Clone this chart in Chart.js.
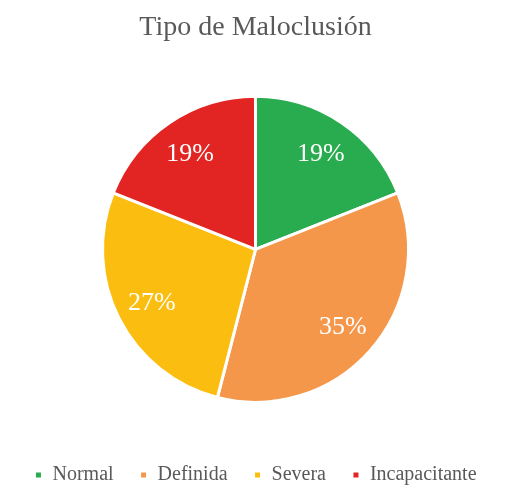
<!DOCTYPE html>
<html>
<head>
<meta charset="utf-8">
<script src="https://cdn.jsdelivr.net/npm/chart.js@4"></script>
<style>
html,body{margin:0;padding:0;background:#fff;}
#wrap{width:520px;height:498px;position:relative;}
</style>
</head>
<body>
<div id="wrap"><canvas id="c" width="520" height="498"></canvas></div>
<script>
const categories = ["Normal", "Definida", "Severa", "Incapacitante"];
const percentValues = [19, 35, 27, 19];
const sliceColors = ["#29AB4F", "#F4974A", "#FBBE10", "#E22422"];
const chartTitle = "Tipo de Maloclusión";

const pieLabels = {
  id: 'pieLabels',
  afterDatasetsDraw(chart) {
    const ctx = chart.ctx;
    const meta = chart.getDatasetMeta(0);
    ctx.save();
    ctx.fillStyle = '#ffffff';
    ctx.font = '26px "Liberation Serif", "Times New Roman", serif';
    ctx.textAlign = 'center';
    ctx.textBaseline = 'middle';
    meta.data.forEach((arc, i) => {
      const p = arc.getProps(['x','y','startAngle','endAngle','outerRadius'], true);
      const mid = (p.startAngle + p.endAngle) / 2;
      const r = p.outerRadius * 0.76;
      ctx.fillText(percentValues[i] + '%', p.x + Math.cos(mid) * r, p.y + Math.sin(mid) * r + 1);
    });
    ctx.restore();
  }
};

new Chart(document.getElementById('c'), {
  type: 'pie',
  data: {
    labels: categories,
    datasets: [{
      data: percentValues,
      backgroundColor: sliceColors,
      borderColor: '#ffffff',
      borderWidth: 3,
      radius: 153
    }]
  },
  options: {
    responsive: false,
    animation: false,
    layout: { padding: { left: 0, right: 9, top: 0, bottom: 3 } },
    plugins: {
      title: {
        display: true,
        text: chartTitle,
        color: '#595959',
        font: { family: '"Liberation Serif", "Times New Roman", serif', size: 28, weight: 'normal' },
        padding: { top: 11, bottom: 15 }
      },
      legend: {
        position: 'bottom',
        labels: {
          color: '#595959',
          font: { family: '"Liberation Serif", "Times New Roman", serif', size: 20 },
          boxWidth: 8,
          boxHeight: 8,
          padding: 26
        }
      },
      tooltip: { enabled: false }
    }
  },
  plugins: [pieLabels]
});
</script>
</body>
</html>
